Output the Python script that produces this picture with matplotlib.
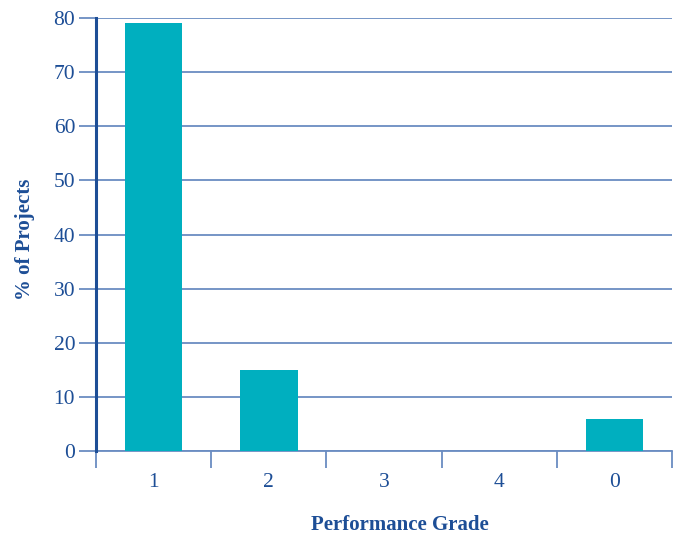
import numpy as np
import matplotlib.pyplot as plt

grades = ['1', '2', '3', '4', '0']
pct_projects = [79, 15, 0, 0, 6]
y_ticks = [0, 10, 20, 30, 40, 50, 60, 70, 80]

text_blue = '#1d4e96'
grid_blue = '#6a8cc2'
bar_teal = '#00afbf'

plt.rcParams['font.family'] = ['Liberation Serif', 'DejaVu Serif']

fig = plt.figure(figsize=(6.75, 5.37), dpi=100)
ax = fig.add_axes([0.1422, 0.160, 0.8534, 0.8065])

x = np.arange(len(grades))
ax.bar(x, pct_projects, width=0.5, color=bar_teal, zorder=3)

ax.set_xlim(-0.5, len(grades) - 0.5)
ax.set_ylim(0, 80)

# horizontal grid, drawn from the tick stubs across the plot
ax.set_yticks(y_ticks)
ax.yaxis.grid(True, color=grid_blue, lw=1.3, zorder=1)
ax.tick_params(axis='y', length=12, width=1.3, color=grid_blue,
               labelcolor=text_blue, labelsize=15.5, pad=3)

# category labels centred, tick marks at the category boundaries
ax.set_xticks(x)
ax.set_xticklabels(grades)
ax.set_xticks(np.arange(-0.5, len(grades)), minor=True)
ax.tick_params(axis='x', which='major', length=0, labelcolor=text_blue,
               labelsize=15.5, pad=16)
ax.tick_params(axis='x', which='minor', length=12, width=1.3, color=grid_blue)

for side in ['top', 'right']:
    ax.spines[side].set_visible(False)
ax.spines['left'].set_color(text_blue)
ax.spines['left'].set_linewidth(2.2)
ax.spines['left'].set_zorder(4)
ax.spines['bottom'].set_color(grid_blue)
ax.spines['bottom'].set_linewidth(1.3)

ax.set_ylabel('% of Projects', color=text_blue, fontsize=15, fontweight='bold')
ax.yaxis.set_label_coords(-0.106, 0.49)
ax.set_xlabel('Performance Grade', color=text_blue, fontsize=15, fontweight='bold')
ax.xaxis.set_label_coords(0.528, -0.147)

fig.savefig('out.png', dpi=100)
